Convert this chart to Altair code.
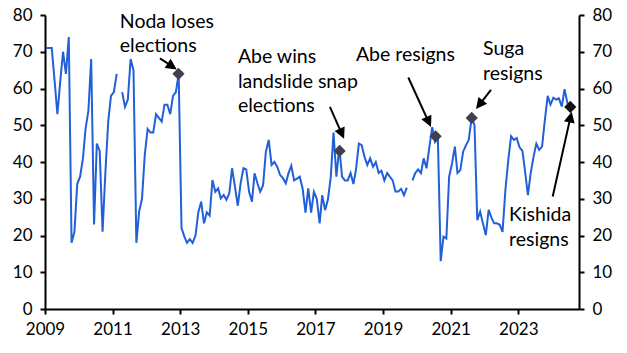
import math
import altair as alt
import pandas as pd

# ---------------- data (monthly, from Jan 2009) ----------------
values = [
    71, 71, 71, 62, 53, 62, 70, 64, 74, 18,
    21, 34, 36, 41, 49, 54, 68, 23, 45, 43,
    21, 37, 51, 58, 59, 64, None, 59, 55, 57,
    68, 65, 18, 26.5, 30, 42, 49, 48, 48, 53,
    52, 51, 55.6, 55.6, 53, 58, 59, 64, 22, 19.7,
    18, 19, 18, 20, 26.3, 29.2, 23.3, 26.3, 25.4, 35.1,
    31.9, 32.8, 30.1, 31, 29.7, 31.5, 38.3, 33.3, 28.1, 34.2,
    38.3, 38, 31.9, 29.2, 36.9, 34.2, 31.9, 33.7, 42.8, 46,
    39.2, 40, 38.7, 36.5, 35.6, 34.2, 36.9, 39, 35, 35.5,
    36, 32.8, 26.2, 32.8, 26.2, 31.9, 30, 23.3, 31, 26.9,
    29.7, 35.8, 48, 36, 44, 36, 35, 35, 37, 34,
    38, 45, 44.6, 41.4, 39.2, 41, 38.7, 40, 37, 37.6,
    35, 37, 36, 35, 32, 32, 32.7, 31, 33, None,
    35, 37, 38, 37, 41, 38.3, 44, 49.5, 45.5, 47,
    13, 19.7, 19.2, 36, 39.6, 44.2, 37, 37.8, 42.8, 44.6,
    46, 52, 50, 24.2, 26.5, 23.3, 20.1, 27, 25, 23.3,
    23.3, 22.9, 21, 32.4, 40.5, 47, 46, 46.5, 44, 43,
    37.5, 31, 37, 41.4, 45, 43.3, 44.2, 51.4, 58, 55.6,
    57.5, 57, 57.3, 55.1, 59.8, 56, 55,
]

event_dates = ["2012-12-13", "2017-09-19", "2020-07-22", "2021-08-16", "2024-07-16"]
event_values = [64, 43, 47, 52, 55]
event_colors = ["#3f3f52", "#3f3f52", "#3f3f52", "#3f3f52", "#111111"]

label_texts = ["Noda loses\nelections", "Abe wins\nlandslide snap\nelections",
               "Abe resigns", "Suga\nresigns", "Kishida\nresigns"]
label_dates = ["2011-03-20", "2014-09-16", "2018-03-14", "2021-12-16", "2022-09-23"]
label_values = [76.5, 66.9, 67.6, 69.1, 23.9]

arrow_tail_dates = ["2012-05-27", "2017-06-06", "2019-10-01", "2022-03-12", "2024-01-08"]
arrow_tail_values = [68.2, 55.0, 63.0, 59.6, 30.6]
arrow_tip_dates = ["2012-11-25", "2017-11-06", "2020-06-02", "2021-10-01", "2024-07-31"]
arrow_tip_values = [65.2, 46.3, 49.5, 54.4, 53.7]

y_ticks = [0, 10, 20, 30, 40, 50, 60, 70, 80]
x_tick_years = [2009, 2011, 2013, 2015, 2017, 2019, 2021, 2023]

# ---------------- layout ----------------
W, H = 534, 294
X_START = pd.Timestamp("2009-01-01")
X_END = pd.Timestamp("2024-10-18")
FONT = "Lato"
LINE_BLUE = "#2160d8"

px_per_day = W / (X_END - X_START).days
px_per_unit = H / 80.0

# ---------------- build tables ----------------
dates = pd.date_range("2009-01-01", periods=len(values), freq="MS") + pd.Timedelta(days=14)
seg, s = [], 0
for v in values:
    if v is None:
        s += 1
    seg.append(s)
line_df = pd.DataFrame({"date": dates, "value": values, "seg": seg}).dropna()
line_df["date"] = line_df["date"].dt.strftime("%Y-%m-%dT%H:%M:%S")

ev_df = pd.DataFrame({"date": event_dates, "value": event_values, "color": event_colors})
lab_df = pd.DataFrame({"date": label_dates, "value": label_values, "text": label_texts})

HEAD = 11.0
rows = []
for td, tv, hd, hv in zip(arrow_tail_dates, arrow_tail_values, arrow_tip_dates, arrow_tip_values):
    t0, t1 = pd.Timestamp(td), pd.Timestamp(hd)
    dx = (t1 - t0).days * px_per_day
    dy = -(hv - tv) * px_per_unit
    ln = math.hypot(dx, dy)
    ux, uy = dx / ln, dy / ln
    ang = math.degrees(math.atan2(dx, -dy)) % 360
    back = HEAD * 0.6
    base_date = t1 - pd.Timedelta(days=ux * back / px_per_day)
    base_val = hv + uy * back / px_per_unit
    rows.append({"d0": td, "v0": tv,
                 "d1": base_date.strftime("%Y-%m-%dT%H:%M:%S"), "v1": base_val,
                 "dt": hd, "vt": hv, "angle": ang})
arr_df = pd.DataFrame(rows)

x_scale = alt.Scale(domain=[alt.DateTime(year=2009, month=1, date=1),
                            alt.DateTime(year=2024, month=10, date=18)])
y_scale = alt.Scale(domain=[0, 80], nice=False)

AX = dict(domainColor="black", domainWidth=2, tickColor="black", tickWidth=2,
          tickSize=5, labelFont=FONT, labelFontSize=17, labelColor="black",
          grid=False, title=None, labelFlush=False, labelOverlap=False)

x_axis = alt.Axis(values=[alt.DateTime(year=y, month=1, date=1) for y in x_tick_years],
                  format="%Y", labelPadding=7, **AX)
y_left = alt.Axis(values=y_ticks, orient="left", labelPadding=8, **AX)
y_right = alt.Axis(values=y_ticks, orient="right", labelPadding=8, **AX)


def X(field):
    return alt.X(field, scale=x_scale, axis=x_axis)


def Y(field):
    return alt.Y(field, scale=y_scale, axis=y_left)


line = alt.Chart(line_df).mark_line(color=LINE_BLUE, strokeWidth=2).encode(
    x=X("date:T"), y=Y("value:Q"), detail="seg:N",
)

arrow_lines = alt.Chart(arr_df).mark_rule(color="black", strokeWidth=2).encode(
    x=X("d0:T"), y=Y("v0:Q"), x2="d1:T", y2="v1:Q",
)

arrow_heads = alt.Chart(arr_df).mark_point(
    shape="M0,0 L0.5,1 L-0.5,1 Z", filled=True, color="black", opacity=1,
    size=(2 * HEAD) ** 2,
).encode(
    x=X("dt:T"), y=Y("vt:Q"), angle=alt.Angle("angle:Q", scale=None),
)

diamonds = alt.Chart(ev_df).mark_point(shape="diamond", filled=True, opacity=1, size=150).encode(
    x=X("date:T"), y=Y("value:Q"), color=alt.Color("color:N", scale=None),
)

labels = alt.Chart(lab_df).mark_text(
    align="left", baseline="alphabetic", font=FONT, fontSize=19.5, lineBreak="\n",
    lineHeight=24.5, color="black",
).encode(
    x=X("date:T"), y=Y("value:Q"), text="text:N",
)

main = alt.layer(line, arrow_lines, arrow_heads, diamonds, labels)

right = alt.Chart(line_df).mark_line(opacity=0).encode(
    x=X("date:T"),
    y=alt.Y("value:Q", scale=y_scale, axis=y_right),
    detail="seg:N",
)

chart = alt.layer(main, right).resolve_scale(y="independent").properties(
    width=W, height=H, autosize=alt.AutoSizeParams(type="none"),
    padding={"left": 45, "top": 15, "right": 48, "bottom": 44},
    background="white",
).configure_view(stroke=None)

chart.save("out.html", embed_options={"renderer": "svg", "actions": False})
